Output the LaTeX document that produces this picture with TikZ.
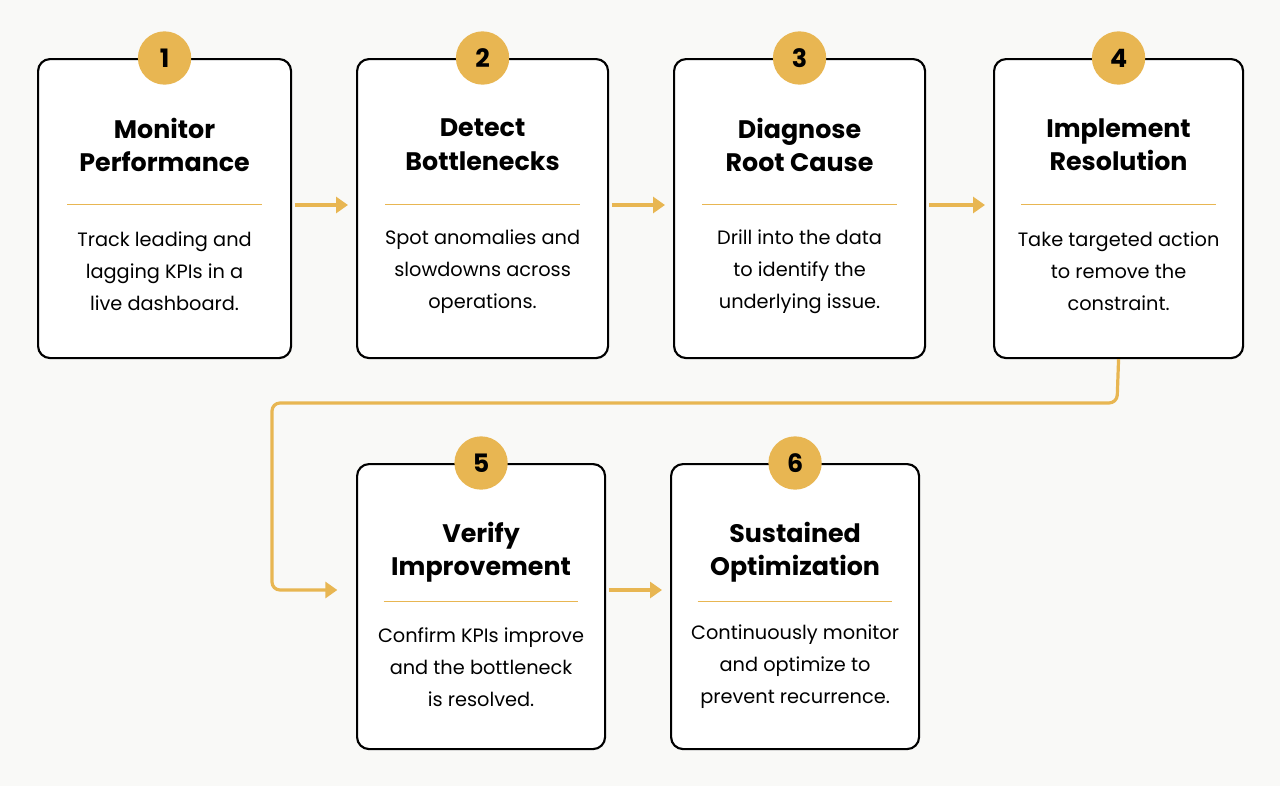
\documentclass[tikz,border=0pt]{standalone}
\usepackage{fontspec}
\setmainfont{Poppins}
\usetikzlibrary{arrows.meta,positioning}
\definecolor{gold}{RGB}{232,182,82}
\definecolor{paper}{RGB}{249,249,247}

\begin{document}
\begin{tikzpicture}[x=0.75pt,y=-0.75pt]
                \tikzset{stage/.style={draw=black, line width=1.6pt, rounded corners=9pt, fill=white, anchor=north west},
                badge/.style={circle, fill=gold, minimum size=40pt, inner sep=0pt, font=\fontsize{19}{19}\selectfont\bfseries},
                flow/.style={draw=gold, line width=2.4pt, -{Triangle[length=9pt,width=12pt]}, shorten >=6pt, shorten <=2pt},
                heading/.style={align=center, font=\fontsize{19}{25}\selectfont\bfseries},
                body/.style={align=center, font=\fontsize{14.5}{24}\selectfont}}

                \fill[paper] (0,0) rectangle (1280,786);

                \foreach \n/\x/\y/\w/\h/\t/\r/\s/\ta/\tb/\ba/\bb/\bc in {
                    1/37/58/253/299/65/110/160/Monitor/Performance/Track leading and/lagging KPIs in a/live dashboard.,
                    2/356/58/251/299/65/110/160/Detect/Bottlenecks/Spot anomalies and/slowdowns across/operations.,
                    3/673/58/251/299/65/110/160/Diagnose/Root Cause/Drill into the data/to identify the/underlying issue.,
                    4/993/58/249/299/65/110/160/Implement/Resolution/Take targeted action/to remove the/constraint.,
                    5/356/463/248/285/67/104/153/Verify/Improvement/Confirm KPIs improve/and the bottleneck/is resolved.,
                    6/670/463/248/285/67/104/153/Sustained/Optimization/Continuously monitor/and optimize to/prevent recurrence.}{
                    \node[stage, minimum width=\w*0.75pt, minimum height=\h*0.75pt] (b\n) at (\x,\y) {};
                    \node[badge] (c\n) at (b\n.north) {\n};
                    \node[heading] (t\n) at ([yshift=-\t pt]b\n.north) {\ta\\\tb};
                    \draw[gold, line width=1.2pt] ([xshift=-73pt,yshift=-\r pt]b\n.north) -- ([xshift=73pt,yshift=-\r pt]b\n.north);
                    \node[body] (d\n) at ([yshift=-\s pt]b\n.north) {\ba\\\bb\\\bc};}

                % connectors
                \draw[flow] (b1.east |- 0,205) -- (b2.west |- 0,205);
                \draw[flow] (b2.east |- 0,205) -- (b3.west |- 0,205);
                \draw[flow] (b3.east |- 0,205) -- (b4.west |- 0,205);
                \draw[flow] (b5.east |- 0,590) -- (b6.west |- 0,590);
                \draw[flow, rounded corners=6pt, shorten <=0pt, shorten >=14pt] (b4.south) -- (1117,403) -- (272,403) -- (272,590) -- (b5.west |- 0,590);
        \end{tikzpicture}
\end{document}
